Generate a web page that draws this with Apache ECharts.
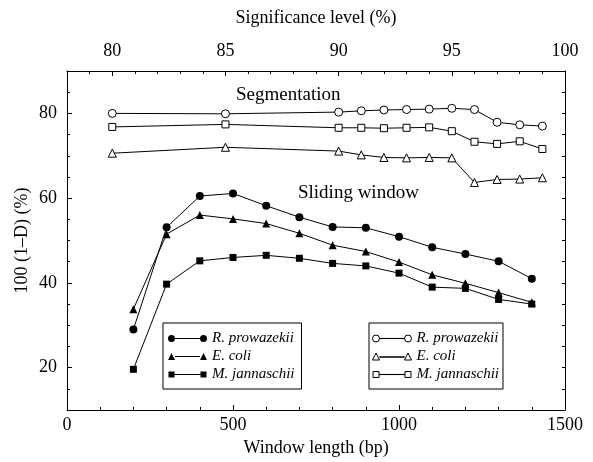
<!DOCTYPE html>
<html>
<head>
<meta charset="utf-8">
<script src="https://cdn.jsdelivr.net/npm/echarts@6/dist/echarts.min.js"></script>
<style>
  html, body { margin: 0; padding: 0; background: #fff; }
  #chart { width: 593px; height: 462px; }
</style>
</head>
<body>
<div id="chart"></div>
<script>
// sliding window results, plotted on the bottom axis (window length, bp)
const windowLengths = [200, 300, 400, 500, 600, 700, 800, 900, 1000, 1100, 1200, 1300, 1400];
const slidingRp = [29.0, 53.1, 60.5, 61.1, 58.2, 55.5, 53.2, 53.0, 50.9, 48.4, 46.8, 45.1, 41.0];
const slidingEc = [33.8, 51.5, 56.0, 55.1, 54.0, 51.7, 48.9, 47.4, 44.9, 41.9, 39.9, 37.7, 35.4];
const slidingMj = [19.6, 39.7, 45.2, 46.0, 46.5, 45.8, 44.6, 44.0, 42.3, 39.0, 38.7, 36.1, 35.0];

// segmentation results, plotted on the top axis (significance level, %)
const sigLevels = [80, 85, 90, 91, 92, 93, 94, 95, 96, 97, 98, 99];
const segRp = [80.0, 79.9, 80.3, 80.6, 80.8, 80.9, 81.0, 81.2, 80.9, 77.9, 77.3, 77.0];
const segEc = [70.6, 72.0, 71.1, 70.2, 69.6, 69.5, 69.6, 69.5, 63.7, 64.4, 64.5, 64.8];
const segMj = [76.8, 77.4, 76.6, 76.6, 76.5, 76.6, 76.7, 75.8, 73.3, 72.8, 73.4, 71.6];

const yLabels = [20, 40, 60, 80];
const topLabels = [80, 85, 90, 95, 100];
const species = ["R. prowazekii", "E. coli", "M. jannaschii"];

const FONT = "Liberation Serif";
const SEG = " (segmentation)";

const chart = echarts.init(document.getElementById("chart"));

const pairs = (xs, ys) => xs.map((x, i) => [x, ys[i]]);
const plain = v => String(v);

function lineSeries(name, xIdx, symbol, size, data, hollow) {
  return {
    name: name,
    type: "line",
    xAxisIndex: xIdx,
    yAxisIndex: 0,
    data: data,
    symbol: symbol,
    symbolSize: size,
    showSymbol: true,
    animation: false,
    itemStyle: hollow
      ? { color: "#fff", borderColor: "#000", borderWidth: 1 }
      : { color: "#000", borderWidth: 0 },
    lineStyle: { color: "#000", width: 1 }
  };
}

// legend icons: a line with a marker at each end
const icons = {
  circle: "path://M3.5,0A3.5,3.5,0,1,1,3.5,7A3.5,3.5,0,1,1,3.5,0ZM7,3L32,3L32,4L7,4ZM35.5,0A3.5,3.5,0,1,1,35.5,7A3.5,3.5,0,1,1,35.5,0Z",
  triangle: "path://M0,7L3.5,0L7,7ZM7,3L32,3L32,4L7,4ZM32,7L35.5,0L39,7Z",
  rect: "path://M0.5,0.5L6.5,0.5L6.5,6.5L0.5,6.5ZM6.5,3L32.5,3L32.5,4L6.5,4ZM32.5,0.5L38.5,0.5L38.5,6.5L32.5,6.5ZM0,0L0,0ZM39,7L39,7Z",
  circleO: "path://M3.5,0A3.5,3.5,0,1,1,3.5,7A3.5,3.5,0,1,1,3.5,0ZM7,3.45L32,3.45L32,3.55L7,3.55ZM35.5,0A3.5,3.5,0,1,1,35.5,7A3.5,3.5,0,1,1,35.5,0Z",
  triangleO: "path://M0,7L3.5,0L7,7ZM7,3.95L32,3.95L32,4.05L7,4.05ZM32,7L35.5,0L39,7Z",
  rectO: "path://M0.5,0.5L6.5,0.5L6.5,6.5L0.5,6.5ZM6.5,3.45L32.5,3.45L32.5,3.55L6.5,3.55ZM32.5,0.5L38.5,0.5L38.5,6.5L32.5,6.5ZM0,0L0,0ZM39,7L39,7Z"
};

const legendText = { fontFamily: FONT, fontStyle: "italic", fontSize: 15, color: "#000" };
const filledStyle = { color: "#000", borderWidth: 0 };
const hollowStyle = { color: "#fff", borderColor: "#000", borderWidth: 1 };

const tickLabel = { fontFamily: FONT, fontSize: 18, color: "#000", formatter: plain };
const axisName = { fontFamily: FONT, fontSize: 18, color: "#000" };
const black = { lineStyle: { color: "#000", width: 1 } };

const option = {
  backgroundColor: "#fff",
  animation: false,
  grid: { left: 67, right: 28, top: 71, bottom: 52 },
  xAxis: [
    {
      type: "value", position: "bottom", min: 0, max: 1500, interval: 500,
      name: "Window length (bp)", nameLocation: "middle", nameGap: 28, nameTextStyle: axisName,
      axisLine: black,
      axisTick: { inside: true, length: 5, lineStyle: { color: "#000" } },
      minorTick: { show: true, splitNumber: 5, length: 3, lineStyle: { color: "#000" } },
      axisLabel: Object.assign({ margin: 6 }, tickLabel),
      splitLine: { show: false }
    },
    {
      type: "value", position: "top", min: 78, max: 100,
      name: "Significance level (%)", nameLocation: "middle", nameGap: 44, nameTextStyle: axisName,
      axisLine: black,
      axisTick: { inside: true, length: 5, customValues: topLabels, lineStyle: { color: "#000" } },
      axisLabel: Object.assign({ margin: 11, customValues: topLabels }, tickLabel),
      splitLine: { show: false }
    },
    {
      type: "value", position: "top", min: 78, max: 100, interval: 1,
      axisLine: { show: false },
      axisTick: { inside: true, length: 3, lineStyle: { color: "#000" } },
      axisLabel: { show: false },
      splitLine: { show: false }
    }
  ],
  yAxis: [
    {
      type: "value", position: "left", min: 10, max: 90,
      name: "100 (1\u2013D) (%)", nameLocation: "middle", nameGap: 36, nameMoveOverlap: false,
      nameTextStyle: axisName,
      axisLine: black,
      axisTick: { inside: true, length: 5, customValues: yLabels, lineStyle: { color: "#000" } },
      axisLabel: Object.assign({ margin: 10, customValues: yLabels }, tickLabel),
      splitLine: { show: false }
    },
    {
      type: "value", position: "left", min: 10, max: 90, interval: 5,
      axisLine: { show: false },
      axisTick: { inside: true, length: 3, lineStyle: { color: "#000" } },
      axisLabel: { show: false },
      splitLine: { show: false }
    },
    {
      type: "value", position: "right", min: 10, max: 90, interval: 5,
      axisLine: Object.assign({ show: true }, black),
      axisTick: { inside: true, length: 3, lineStyle: { color: "#000" } },
      axisLabel: { show: false },
      splitLine: { show: false }
    }
  ],
  legend: [
    {
      orient: "vertical", left: 163, top: 323,
      itemWidth: 39, itemHeight: 7, itemGap: 3,
      padding: [8, 7, 7, 5],
      borderColor: "#000", borderWidth: 1,
      selectedMode: false,
      textStyle: legendText,
      data: [
        { name: species[0], icon: icons.circle, itemStyle: filledStyle },
        { name: species[1], icon: icons.triangle, itemStyle: filledStyle },
        { name: species[2], icon: icons.rect, itemStyle: filledStyle }
      ]
    },
    {
      orient: "vertical", left: 369, top: 323,
      itemWidth: 39, itemHeight: 7, itemGap: 3,
      padding: [8, 4, 7, 3],
      borderColor: "#000", borderWidth: 1,
      selectedMode: false,
      textStyle: legendText,
      formatter: name => name.replace(SEG, ""),
      data: [
        { name: species[0] + SEG, icon: icons.circleO, itemStyle: hollowStyle },
        { name: species[1] + SEG, icon: icons.triangleO, itemStyle: hollowStyle },
        { name: species[2] + SEG, icon: icons.rectO, itemStyle: hollowStyle }
      ]
    }
  ],
  graphic: [
    { type: "text", left: 236, top: 86, style: { text: "Segmentation", font: "19px 'Liberation Serif'", fill: "#000" } },
    { type: "text", left: 298, top: 184, style: { text: "Sliding window", font: "19px 'Liberation Serif'", fill: "#000" } }
  ],
  series: [
    lineSeries(species[0], 0, "circle", 8, pairs(windowLengths, slidingRp), false),
    lineSeries(species[1], 0, "triangle", 8, pairs(windowLengths, slidingEc), false),
    lineSeries(species[2], 0, "rect", 7, pairs(windowLengths, slidingMj), false),
    lineSeries(species[0] + SEG, 1, "circle", 8, pairs(sigLevels, segRp), true),
    lineSeries(species[1] + SEG, 1, "triangle", 8, pairs(sigLevels, segEc), true),
    lineSeries(species[2] + SEG, 1, "rect", 7, pairs(sigLevels, segMj), true)
  ]
};

chart.setOption(option);
</script>
</body>
</html>
